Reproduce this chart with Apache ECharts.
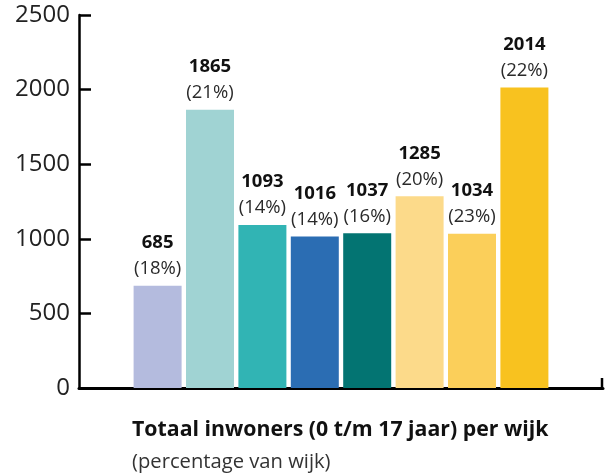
<!DOCTYPE html>
<html>
<head>
<meta charset="utf-8">
<script src="https://cdn.jsdelivr.net/npm/echarts@6/dist/echarts.min.js"></script>
<style>
  html, body { margin: 0; padding: 0; background: #fff; }
  #chart { width: 610px; height: 476px; }
</style>
</head>
<body>
<div id="chart"></div>
<script>
// one category per wijk (no names shown), plus an empty slot each side
var wijken = ['w1', 'w2', 'w3', 'w4', 'w5', 'w6', 'w7', 'w8']
var inwoners = [685, 1865, 1093, 1016, 1037, 1285, 1034, 2014]
var percentages = [18, 21, 14, 14, 16, 20, 23, 22]
var colors = ['#b4bbde', '#a0d3d3', '#31b4b4', '#2b6db3', '#037472', '#fcda8a', '#fbcf5a', '#f8c21f']
var yTicks = [0, 500, 1000, 1500, 2000, 2500]

var fontFam = '"Open Sans", "Noto Sans", sans-serif'
var categories = [''].concat(wijken).concat([''])
var barData = [null].concat(inwoners.map(function (v, i) {
    return { value: v, itemStyle: { color: colors[i] }, pct: percentages[i] }
})).concat([null])

var dom = echarts.init(document.getElementById('chart'))
var options = {
    animation: false,
    title: {
        text: 'Totaal inwoners (0 t/m 17 jaar) per wijk',
        subtext: '(percentage van wijk)',
        left: 132,
        top: 416,
        itemGap: 4,
        padding: 0,
        textStyle: { fontFamily: fontFam, fontSize: 21.3, fontWeight: 'bold', color: '#111', lineHeight: 28 },
        subtextStyle: { fontFamily: fontFam, fontSize: 20.2, color: '#333', lineHeight: 28 }
    },
    grid: { left: 79, right: 7, top: 15, bottom: 88 },
    xAxis: {
        type: 'category',
        data: categories,
        axisLine: { lineStyle: { color: '#000', width: 3 } },
        axisTick: { show: false },
        axisLabel: { show: false }
    },
    yAxis: {
        type: 'value',
        min: yTicks[0],
        max: yTicks[yTicks.length - 1],
        interval: 500,
        splitLine: { show: false },
        axisLine: { show: true, lineStyle: { color: '#000', width: 2.5 } },
        axisTick: { show: true, inside: true, length: 12, lineStyle: { color: '#000', width: 2.5 } },
        axisLabel: {
            fontFamily: fontFam, fontSize: 24, color: '#222', margin: 9,
            formatter: function (v) { return String(v) }
        }
    },
    series: [{
        type: 'bar',
        data: barData,
        barWidth: 48,
        label: {
            show: true,
            position: 'top',
            distance: 4,
            formatter: function (p) {
                return '{v|' + p.value + '}\n{p|(' + p.data.pct + '%)}'
            },
            rich: {
                v: { fontFamily: fontFam, fontSize: 18.5, fontWeight: 'bold', color: '#111', lineHeight: 26 },
                p: { fontFamily: fontFam, fontSize: 18.5, color: '#2a2a2a', lineHeight: 26 }
            }
        }
    }]
}
dom.setOption(options)

// small upward tick at the right end of the x axis
var endPt = dom.convertToPixel({ gridIndex: 0 }, [categories.length - 1, 0])
var rightX = dom.getWidth() - 7
dom.setOption({
    graphic: [{
        type: 'line',
        shape: { x1: rightX - 1, y1: endPt[1] + 1, x2: rightX - 1, y2: endPt[1] - 10 },
        style: { stroke: '#000', lineWidth: 2.5 }
    }]
})
</script>
</body>
</html>
